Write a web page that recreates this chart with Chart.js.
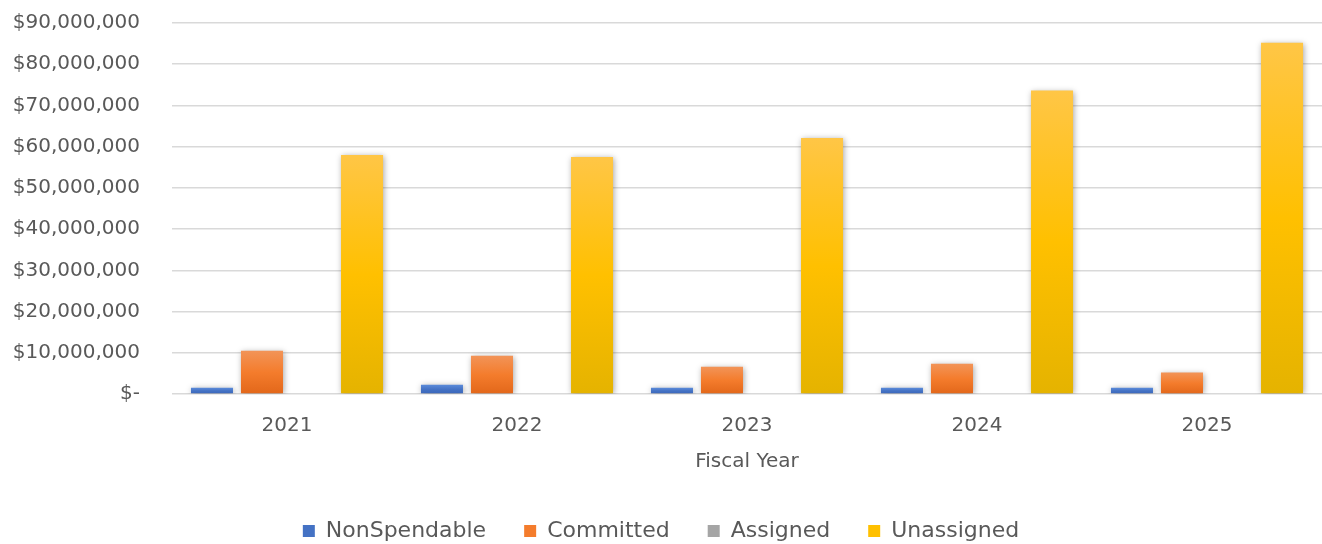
<!DOCTYPE html>
<html>
<head>
<meta charset="utf-8">
<script src="https://cdn.jsdelivr.net/npm/chart.js@4"></script>
<style>
html,body{margin:0;padding:0;background:#fff;overflow:hidden;}
#wrap{width:1322px;height:544px;position:relative;overflow:hidden;}
</style>
</head>
<body>
<div id="wrap"><canvas id="c" width="1322" height="552"></canvas></div>
<script>
const categories = ['2021','2022','2023','2024','2025'];
const nonSpendable = [1500000, 2250000, 1500000, 1500000, 1500000];
const committed = [10500000, 9300000, 6600000, 7350000, 5200000];
const assigned = [0, 0, 0, 0, 0];
const unassigned = [58000000, 57500000, 62100000, 73600000, 85200000];
const seriesNames = ['NonSpendable','Committed','Assigned','Unassigned'];
const yMax = 90000000;
const yStep = 10000000;

const palettes = {
  NonSpendable: ['#5B8BDA', '#4472C4', '#3A66BA'],
  Committed: ['#F29458', '#F47C2C', '#E2671A'],
  Assigned: ['#B5B5B5', '#A5A5A5', '#939393'],
  Unassigned: ['#FFC646', '#FFC000', '#E5B300']
};

function gradFill(name) {
  return function(ctx) {
    const chart = ctx.chart;
    const pal = palettes[name];
    if (ctx.type !== 'data' || !chart.chartArea) return pal[1];
    const y = chart.scales.y;
    const v = ctx.raw || 0;
    const top = y.getPixelForValue(v);
    const bot = y.getPixelForValue(0);
    if (Math.abs(bot - top) < 1) return pal[1];
    const g = chart.ctx.createLinearGradient(0, top, 0, bot);
    g.addColorStop(0, pal[0]);
    g.addColorStop(0.5, pal[1]);
    g.addColorStop(1, pal[2]);
    return g;
  };
}

const shadowPlugin = {
  id: 'barShadow',
  beforeDatasetsDraw(chart) {
    const c = chart.ctx;
    c.save();
    c.shadowColor = 'rgba(0,0,0,0.35)';
    c.shadowBlur = 6;
    c.shadowOffsetX = 1;
    c.shadowOffsetY = 1;
  },
  afterDatasetsDraw(chart) {
    chart.ctx.restore();
  }
};

const dataArrays = [nonSpendable, committed, assigned, unassigned];
const datasets = seriesNames.map((n, i) => ({
  label: n,
  data: dataArrays[i],
  backgroundColor: gradFill(n),
  borderWidth: 0,
  categoryPercentage: 0.87,
  barPercentage: 0.84
}));

const FONT = 'DejaVu Sans';
const GRAY = '#595959';

new Chart(document.getElementById('c'), {
  type: 'bar',
  data: { labels: categories, datasets },
  plugins: [shadowPlugin],
  options: {
    responsive: false,
    animation: false,
    devicePixelRatio: 1,
    layout: { padding: { top: 23, right: 0, bottom: 0, left: 0 } },
    plugins: {
      legend: {
        position: 'bottom',
        labels: {
          color: GRAY,
          font: { family: FONT, size: 22 },
          boxWidth: 12,
          boxHeight: 12,
          padding: 38,
          generateLabels(chart) {
            return seriesNames.map((n, i) => ({
              text: n,
              fillStyle: palettes[n][1],
              strokeStyle: palettes[n][1],
              lineWidth: 0,
              hidden: false,
              datasetIndex: i,
              fontColor: GRAY
            }));
          }
        }
      },
      tooltip: { enabled: false }
    },
    scales: {
      x: {
        grid: { display: false },
        border: { display: false },
        ticks: { color: GRAY, font: { family: FONT, size: 20 }, padding: 12 },
        title: {
          display: true,
          text: 'Fiscal Year',
          color: GRAY,
          font: { family: FONT, size: 20 },
          padding: { top: 0, bottom: 8 }
        }
      },
      y: {
        min: 0,
        max: yMax,
        afterFit(scale) { scale.width = 172; },
        grid: { color: '#D9D9D9', lineWidth: 1.5, drawTicks: true, tickLength: 32, tickColor: 'rgba(0,0,0,0)' },
        border: { display: false },
        ticks: {
          stepSize: yStep,
          color: GRAY,
          padding: 0,
          font: { family: FONT, size: 20 },
          callback(v) {
            if (v === 0) return '$-';
            return '$' + Number(v).toLocaleString('en-US');
          }
        }
      }
    }
  }
});
</script>
</body>
</html>
